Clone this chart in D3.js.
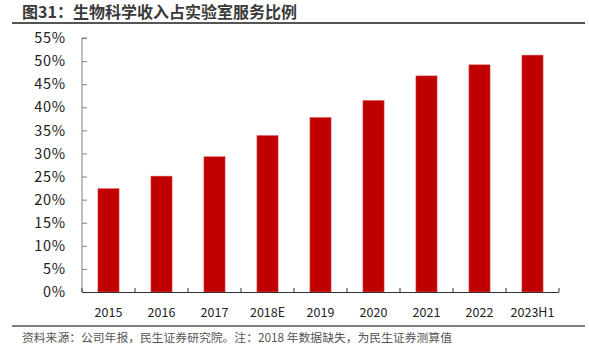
<!DOCTYPE html>
<html><head><meta charset="utf-8">
<script src="https://cdn.jsdelivr.net/npm/d3@7"></script>
<style>body{margin:0;background:#fff}svg{display:block}text{font-family:"Noto Sans CJK SC","Microsoft YaHei",sans-serif}</style>
</head><body>
<script>
const categories = ["2015","2016","2017","2018E","2019","2020","2021","2022","2023H1"];
const values = [22.4, 25.1, 29.3, 33.9, 37.8, 41.5, 46.8, 49.2, 51.3];
const yTicks = [0,5,10,15,20,25,30,35,40,45,50,55];
const title = "图31：生物科学收入占实验室服务比例";
const source = "资料来源：公司年报，民生证券研究院。注：2018 年数据缺失，为民生证券测算值";

const W = 589, H = 356;
const svg = d3.select("body").append("svg").attr("width", W).attr("height", H);

svg.append("text").attr("x", 22).attr("y", 18).attr("font-size", 16).attr("font-weight", "bold")
  .attr("fill", "#3a3a3a").text(title);
svg.append("line").attr("x1", 12).attr("x2", 585).attr("y1", 23).attr("y2", 23)
  .attr("stroke", "#555").attr("stroke-width", 2);

const x = d3.scaleBand().domain(categories).range([82, 559]).paddingInner(0.6).paddingOuter(0.3);
const y = d3.scaleLinear().domain([0, 55]).range([292, 38]);

svg.selectAll("rect.bar").data(values).enter().append("rect")
  .attr("x", (d, i) => x(categories[i])).attr("width", x.bandwidth())
  .attr("y", d => y(d)).attr("height", d => y(0) - y(d))
  .attr("fill", "#C00000").attr("stroke", "#e07070").attr("stroke-width", 0.5);

// y axis
const yAxis = svg.append("g").attr("transform", "translate(82,0)")
  .call(d3.axisRight(y).tickValues(yTicks).tickSize(5).tickFormat(d => d + "%"));
yAxis.select(".domain").attr("stroke", "#808080").attr("d", "M5,38H0V292");
yAxis.selectAll(".tick line").attr("stroke", "#808080");
yAxis.selectAll(".tick text").attr("x", -16).attr("text-anchor", "end").attr("font-size", 14.5)
  .attr("letter-spacing", 0.8)
  .attr("fill", "#222").attr("font-family", "'Open Sans','Noto Sans',sans-serif");

// x axis
const g = svg.append("g");
g.append("line").attr("x1", 82).attr("x2", 559).attr("y1", 292.5).attr("y2", 292.5)
  .attr("stroke", "#333").attr("stroke-width", 1);
const boundaries = d3.range(categories.length + 1).map(i => 82 + i * x.step());
g.selectAll("line.t").data(boundaries).enter().append("line")
  .attr("x1", d => d).attr("x2", d => d).attr("y1", 292).attr("y2", 288)
  .attr("stroke", "#333");
g.selectAll("text.xl").data(categories).enter().append("text")
  .attr("x", d => x(d) + x.bandwidth() / 2).attr("y", 317).attr("text-anchor", "middle")
  .attr("font-size", 12.5).attr("fill", "#222").attr("font-family", "'Open Sans','Noto Sans',sans-serif")
  .text(d => d);

svg.append("line").attr("x1", 12).attr("x2", 585).attr("y1", 326).attr("y2", 326)
  .attr("stroke", "#555").attr("stroke-width", 1.5);
svg.append("text").attr("x", 22).attr("y", 342).attr("font-size", 11.8).attr("fill", "#555").text(source);
</script>
</body></html>
